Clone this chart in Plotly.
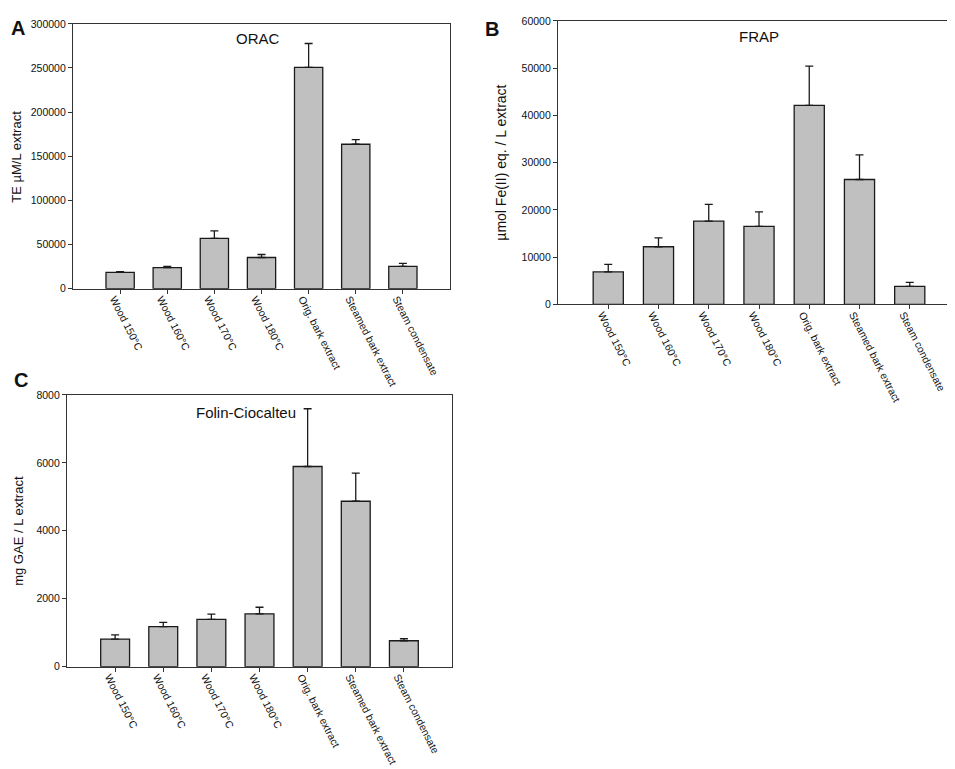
import plotly.graph_objects as go

categories = ["Wood 150°C", "Wood 160°C", "Wood 170°C", "Wood 180°C",
              "Orig. bark extract", "Steamed bark extract", "Steam condensate"]

orac = [18500, 23800, 56900, 35300, 250600, 163600, 25300]
orac_err = [800, 1500, 8500, 3400, 27100, 5200, 3300]

frap = [6870, 12200, 17620, 16510, 42100, 26430, 3815]
frap_err = [1590, 1880, 3540, 3050, 8330, 5200, 835]

folin = [812, 1179, 1391, 1556, 5894, 4870, 763]
folin_err = [125, 125, 155, 193, 1700, 830, 58]

W, H = 955, 769


def px_x(p):
    return p / W


def px_y(p):
    return 1 - p / H


def add_panel(fig, n, vals, errs):
    xa = "x" if n == 1 else "x%d" % n
    ya = "y" if n == 1 else "y%d" % n
    fig.add_trace(go.Bar(
        x=categories, y=vals, xaxis=xa, yaxis=ya, width=0.6,
        marker=dict(color="#c0c0c0", line=dict(color="#1a1a1a", width=1.3)),
        error_y=dict(type="data", array=errs, arrayminus=[0] * len(errs), symmetric=False,
                     color="#1a1a1a", thickness=1.3, width=4),
        showlegend=False))


fig = go.Figure()
add_panel(fig, 1, orac, orac_err)
add_panel(fig, 2, frap, frap_err)
add_panel(fig, 3, folin, folin_err)

font = "Liberation Sans, Arial, sans-serif"
xcommon = dict(type="category", range=[-1, 7], tickangle=63, showline=True, mirror=True,
               linecolor="#333", linewidth=1.2, ticks="outside", ticklen=4, tickcolor="#333",
               showgrid=False, tickfont=dict(size=10.5, color="#111"),
               ticklabelstandoff=-5, ticklabelshift=-6)
ycommon = dict(showline=True, mirror=True, linecolor="#333", linewidth=1.2, ticks="outside",
               ticklen=4, tickcolor="#333", showgrid=False, zeroline=False, tickformat="d",
               tickfont=dict(size=10.5, color="#111"))

fig.update_layout(
    width=W, height=H, margin=dict(l=0, r=0, t=0, b=0),
    paper_bgcolor="white", plot_bgcolor="white",
    font=dict(family=font, color="#111"),
    xaxis=dict(xcommon, domain=[px_x(65), px_x(442)], anchor="y"),
    yaxis=dict(ycommon, domain=[px_y(279), px_y(10)], anchor="x", range=[0, 300000], dtick=50000),
    xaxis2=dict(xcommon, domain=[px_x(550), px_x(952)], anchor="y2"),
    yaxis2=dict(ycommon, domain=[px_y(295), px_y(7)], anchor="x2", range=[0, 60000], dtick=10000),
    xaxis3=dict(xcommon, domain=[px_x(59), px_x(444)], anchor="y3"),
    yaxis3=dict(ycommon, domain=[px_y(663), px_y(387)], anchor="x3", range=[0, 8000], dtick=2000),
)

# panel letters, panel titles and y axis titles
notes = [
    ("A", 10, 14, 20, 0, True),
    ("B", 484, 15, 20, 0, True),
    ("C", 13, 372, 20, 0, True),
    ("ORAC", 250, 25, 15, 0, False),
    ("FRAP", 751, 23, 15, 0, False),
    ("Folin-Ciocalteu", 238, 405, 15, 0, False),
    ("TE µM/L extract", 9, 145, 13, -90, False),
    ("µmol Fe(II) eq. / L extract", 493, 151, 14, -90, False),
    ("mg GAE / L extract", 11, 525, 13, -90, False),
]
for text, x, y, size, angle, bold in notes:
    fig.add_annotation(text="<b>%s</b>" % text if bold else text,
                       x=px_x(x), y=px_y(y), xref="paper", yref="paper",
                       xanchor="center", yanchor="middle", showarrow=False,
                       textangle=angle, font=dict(size=size, color="#111", family=font))

fig.write_html("out.html")
